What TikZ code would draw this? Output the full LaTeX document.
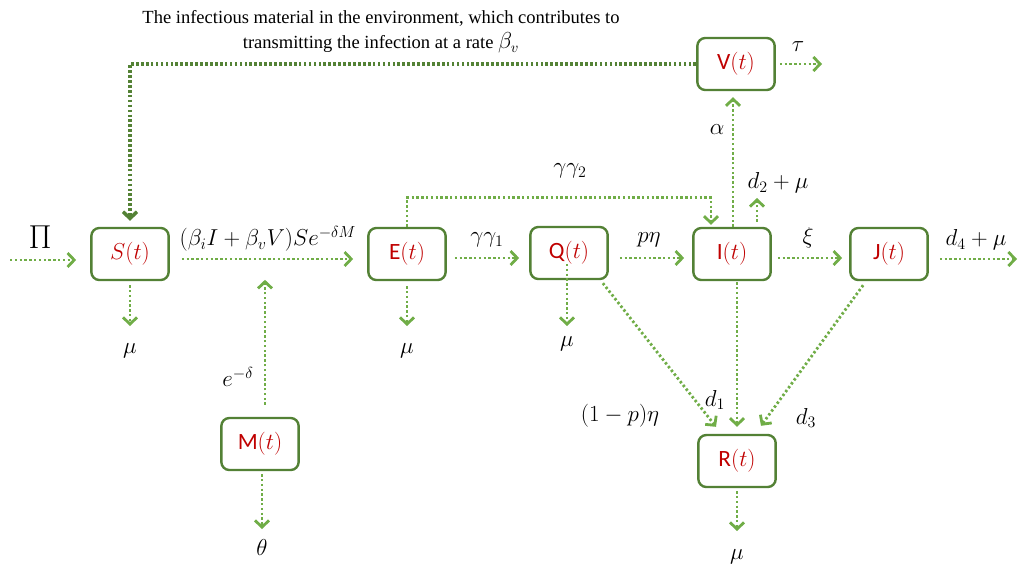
\documentclass[tikz,border=0pt]{standalone}
\usepackage{fontspec}
\setmainfont{Liberation Serif}
\newfontfamily\boxfont{Carlito}
\usetikzlibrary{arrows.meta,calc}
\definecolor{boxgreen}{HTML}{538135}
\definecolor{arrgreen}{HTML}{70AD47}
\definecolor{darkarr}{HTML}{548235}
\definecolor{labred}{HTML}{C00000}
\begin{document}
\begin{tikzpicture}[x=0.75pt,y=-0.75pt,
 comp/.style={draw=boxgreen, line width=1.8pt, rounded corners=6pt, fill=white,
   minimum width=58pt, minimum height=39pt, inner sep=0pt, text=labred,
   font=\boxfont\fontsize{17.5}{20}\selectfont},
 flow/.style={draw=arrgreen, line width=2.1pt, dash pattern=on 1.8pt off 1.8pt,
   -{Straight Barb[length=5pt,width=10.5pt]}},
 flowdark/.style={draw=darkarr, line width=2.6pt, dash pattern=on 2pt off 1.7pt,
   -{Straight Barb[length=5pt,width=10.5pt]}},
 lab/.style={font=\fontsize{17}{20}\selectfont, inner sep=0pt}]
\useasboundingbox (0,0) rectangle (1019,567);

% compartments
\node[comp] (S) at (130,254) {$S(t)$};
\node[comp] (E) at (407,254) {E$(t)$};
\node[comp] (Q) at (569,253) {Q$(t)$};
\node[comp] (I) at (732,254) {I$(t)$};
\node[comp] (J) at (889,254) {J$(t)$};
\node[comp] (V) at (736,64) {V$(t)$};
\node[comp] (R) at (737,461) {R$(t)$};
\node[comp] (M) at (260,444) {M$(t)$};

% free ends
\coordinate (pin) at (10,260);
\coordinate (jout) at (1017,259);
\coordinate (sout) at (130,326);
\coordinate (eout) at (407,326);
\coordinate (qout) at (567,326);
\coordinate (mout) at (262,529);
\coordinate (rout) at (737,531);
\coordinate (vout) at (822,64);
\coordinate (iout) at (757,198);

% top text
\node[align=center, font=\fontsize{13.9}{18.75}\selectfont, inner sep=0pt] (txt) at (381,32)
 {The infectious material in the environment,\ which contributes to\\
  transmitting\ the infection at\ a rate {\fontsize{16}{18}\selectfont$\beta_v$}};

% horizontal flows
\draw[flow] (pin) -- ($(S.west)+(-14,6)$);
\draw[flow] ($(S.east)+(12,5)$) -- ($(E.west)+(-14,5)$);
\draw[flow] ($(E.east)+(8,4)$) -- ($(Q.west)+(-10,5)$);
\draw[flow] ($(Q.east)+(11,5)$) -- ($(I.west)+(-8,4)$);
\draw[flow] ($(I.east)+(6,4)$) -- ($(J.west)+(-7,4)$);
\draw[flow] ($(J.east)+(11,5)$) -- (jout);

% downward outflows
\draw[flow] ($(S.south)+(0,4)$) -- (sout);
\draw[flow] ($(E.south)+(0,5)$) -- (eout);
\draw[flow] ($(Q.center)+(-2,11)$) -- (qout);
\draw[flow] ($(M.south)+(2,3)$) -- (mout);
\draw[flow] ($(R.south)+(0,3)$) -- (rout);

% M to infection
\draw[flow] ($(M.north)+(5,-12)$) -- ($(M.north)+(5,-137)$);

% I upward
\draw[flow] ($(I.north)+(1,0)$) -- ($(V.south)+(-3,6)$);
\draw[flow] ($(I.north)+(25,-5)$) -- (iout);

% E to I loop
\draw[flow] (E.north) |- ($(I.north)+(-21,-29)$) -- ($(I.north)+(-21,-2)$);

% V outflow and V to S
\draw[flow] ($(V.east)+(4,0)$) -- (vout);
\draw[flowdark] (V.west) -| ($(S.north)+(0,-6)$);

% to R
\draw[flow] ($(Q.south east)+(-6,3)$) -- ($(R.north)+(-21,-7)$);
\draw[flow] ($(I.south)+(5,1)$) -- ($(R.north)+(0,-7)$);
\draw[flow] ($(J.south west)+(14,4)$) -- ($(R.north)+(24,-8)$);

% labels
\node[lab, font=\fontsize{25}{28}\selectfont] (lpi) at (40,237) {$\Pi$};
\node[lab] (lSE) at (268,239) {$(\beta_i I+\beta_v V)Se^{-\delta M}$};
\node[lab] (lg1) at (487,240) {$\gamma\gamma_1$};
\node[lab] (lpe) at (649,240) {$p\eta$};
\node[lab] (lxi) at (808,238) {$\xi$};
\node[lab] (ld4) at (976,240) {$d_4+\mu$};
\node[lab] (lmuS) at (130,351) {$\mu$};
\node[lab] (lmuE) at (407,351) {$\mu$};
\node[lab] (lmuQ) at (567,344) {$\mu$};
\node[lab] (led) at (238,377) {$e^{-\delta}$};
\node[lab] (lth) at (262,547) {$\theta$};
\node[lab] (lmuR) at (737,557) {$\mu$};
\node[lab] (lal) at (717,130) {$\alpha$};
\node[lab] (ld2) at (778,183) {$d_2+\mu$};
\node[lab] (lg2) at (570,171) {$\gamma\gamma_2$};
\node[lab] (ltau) at (798,47) {$\tau$};
\node[lab] (lpq) at (620,416) {$(1-p)\eta$};
\node[lab] (ld1) at (715,400) {$d_1$};
\node[lab] (ld3) at (806,418) {$d_3$};
\end{tikzpicture}
\end{document}
